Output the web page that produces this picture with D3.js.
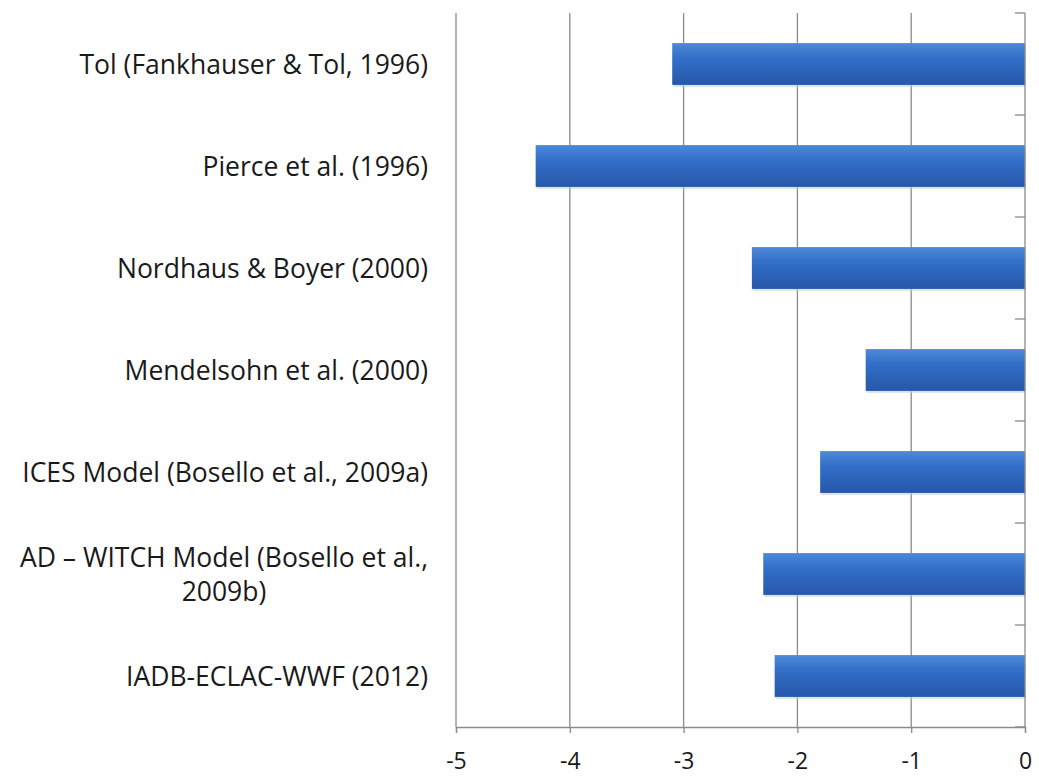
<!DOCTYPE html>
<meta charset="utf-8">
<script src="https://d3js.org/d3.v7.min.js"></script>
<style>
  body { margin: 0; background: #fff; }
  text { font-family: "Open Sans", Lato, sans-serif; fill: #1a1a1a; }
</style>
<div id="my_dataviz"></div>
<script>
  // studies (top to bottom) and their estimates
  var categories = [
    ["Tol (Fankhauser & Tol, 1996)"],
    ["Pierce et al. (1996)"],
    ["Nordhaus & Boyer (2000)"],
    ["Mendelsohn et al. (2000)"],
    ["ICES Model (Bosello et al., 2009a)"],
    ["AD \u2013 WITCH Model (Bosello et al.,", "2009b)"],
    ["IADB-ECLAC-WWF (2012)"]
  ];
  var values = [-3.1, -4.3, -2.4, -1.4, -1.8, -2.3, -2.2];
  var tickValues = [-5, -4, -3, -2, -1, 0];

  var data = categories.map(function(c, i) { return { label: c, key: "c" + i, value: values[i] }; });

  var W = 1039, H = 780;
  var margin = { top: 13, right: 10, bottom: 53, left: 456 };
  var width = W - margin.left - margin.right,
      height = H - margin.top - margin.bottom;

  var svg = d3.select("#my_dataviz").append("svg").attr("width", W).attr("height", H)
  var defs = svg.append("defs");
  var grad = defs.append("linearGradient").attr("id", "barGrad").attr("x1", 0).attr("y1", 0).attr("x2", 0).attr("y2", 1);
  grad.append("stop").attr("offset", "0%").attr("stop-color", "#4d8ad9");
  grad.append("stop").attr("offset", "35%").attr("stop-color", "#336fc8");
  grad.append("stop").attr("offset", "100%").attr("stop-color", "#2657aa");

  var g = svg.append("g").attr("transform", "translate(" + margin.left + "," + margin.top + ")");

  var x = d3.scaleLinear().domain([-5, 0]).range([0, width - 4]);
  var y = d3.scaleBand().domain(data.map(function(d) { return d.key; })).range([0, height]).paddingInner(0.59).paddingOuter(0.295);
  var yb = d3.scaleBand().domain(data.map(function(d) { return d.key; })).range([0, height]);

  // vertical gridlines
  g.selectAll(".grid").data(tickValues.slice(0, -1)).enter().append("line")
    .attr("x1", function(d) { return x(d); }).attr("x2", function(d) { return x(d); })
    .attr("y1", 0).attr("y2", height)
    .attr("stroke", "#8a8a8a").attr("stroke-width", 1.3);

  // bars
  g.selectAll(".shadow").data(data).enter().append("rect")
    .attr("x", function(d) { return x(d.value) + 1; })
    .attr("y", function(d) { return y(d.key) + 2; })
    .attr("width", function(d) { return x(0) - x(d.value); })
    .attr("height", y.bandwidth())
    .attr("fill", "#c8cdd6").attr("opacity", 0.6);
  g.selectAll(".bar").data(data).enter().append("rect")
    .attr("x", function(d) { return x(d.value); })
    .attr("y", function(d) { return y(d.key); })
    .attr("width", function(d) { return x(0) - x(d.value); })
    .attr("height", y.bandwidth())
    .attr("fill", "url(#barGrad)");

  // bottom axis
  var xAxis = g.append("g").attr("transform", "translate(0," + height + ")")
    .call(d3.axisBottom(x).tickValues(tickValues).tickSize(6).tickPadding(20).tickFormat(d3.format("d")));
  xAxis.select(".domain").attr("stroke", "#8a8a8a").attr("stroke-width", 1.3);
  xAxis.selectAll(".tick line").attr("stroke", "#8a8a8a").attr("stroke-width", 1.3);
  xAxis.selectAll(".tick text").style("font-size", "23px").attr("fill", "#1a1a1a")
    .text(function(d) { return d < 0 ? "-" + Math.abs(d) : d; });

  // vertical axis at zero with category ticks pointing into the plot
  var yAxis = g.append("g").attr("transform", "translate(" + x(0) + ",0)");
  yAxis.append("line").attr("y1", 0).attr("y2", height).attr("stroke", "#8a8a8a").attr("stroke-width", 1.3);
  var boundaries = data.map(function(d) { return yb(d.key); }).concat([height]);
  yAxis.selectAll(".yt").data(boundaries).enter().append("line")
    .attr("x1", -10).attr("x2", 0)
    .attr("y1", function(d) { return d; }).attr("y2", function(d) { return d; })
    .attr("stroke", "#8a8a8a").attr("stroke-width", 1.3);

  // category labels (right aligned; wrapped labels centred)
  var labelRight = -28, lineH = 34;
  data.forEach(function(d) {
    var cy = yb(d.key) + yb.bandwidth() / 2;
    var t = g.append("text").style("font-size", "26.5px").attr("dominant-baseline", "central");
    var n = d.label.length;
    d.label.forEach(function(line, i) {
      t.append("tspan").attr("y", cy + (i - (n - 1) / 2) * lineH).text(line);
    });
    if (n === 1) {
      t.attr("text-anchor", "end").selectAll("tspan").attr("x", labelRight);
    } else {
      var maxW = 0;
      t.selectAll("tspan").each(function() { maxW = Math.max(maxW, this.getComputedTextLength()); });
      t.attr("text-anchor", "middle").selectAll("tspan").attr("x", labelRight - maxW / 2);
    }
  });
</script>
